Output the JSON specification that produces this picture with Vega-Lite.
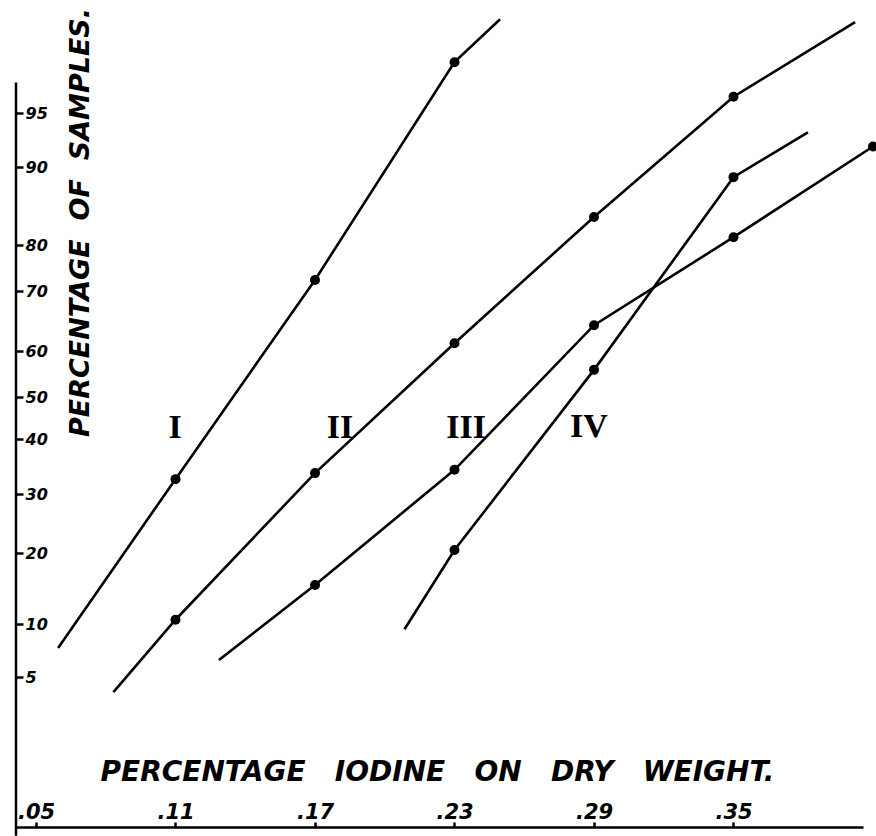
{
  "$schema": "https://vega.github.io/schema/vega-lite/v6.json",
  "width": 847,
  "height": 827,
  "autosize": {"type": "none"},
  "padding": {"left": 16, "top": 0, "right": 13, "bottom": 9},
  "background": "white",
  "config": {"view": {"stroke": null}},
  "datasets": {
    "curves": [
      {"curve": "I", "iodine": 0.0595, "pct": 7.74, "kind": "extension"},
      {"curve": "I", "iodine": 0.11, "pct": 32.7, "kind": "plotted"},
      {"curve": "I", "iodine": 0.17, "pct": 72.4, "kind": "plotted"},
      {"curve": "I", "iodine": 0.23, "pct": 97.5, "kind": "plotted"},
      {"curve": "I", "iodine": 0.2496, "pct": 98.8, "kind": "extension"},
      {"curve": "II", "iodine": 0.0833, "pct": 4.39, "kind": "extension"},
      {"curve": "II", "iodine": 0.11, "pct": 10.6, "kind": "plotted"},
      {"curve": "II", "iodine": 0.17, "pct": 33.8, "kind": "plotted"},
      {"curve": "II", "iodine": 0.23, "pct": 61.3, "kind": "plotted"},
      {"curve": "II", "iodine": 0.29, "pct": 83.6, "kind": "plotted"},
      {"curve": "II", "iodine": 0.35, "pct": 95.8, "kind": "plotted"},
      {"curve": "II", "iodine": 0.4023, "pct": 98.73, "kind": "extension"},
      {"curve": "III", "iodine": 0.1287, "pct": 6.6, "kind": "extension"},
      {"curve": "III", "iodine": 0.17, "pct": 15.5, "kind": "plotted"},
      {"curve": "III", "iodine": 0.23, "pct": 34.4, "kind": "plotted"},
      {"curve": "III", "iodine": 0.29, "pct": 64.3, "kind": "plotted"},
      {"curve": "III", "iodine": 0.35, "pct": 81.0, "kind": "plotted"},
      {"curve": "III", "iodine": 0.41, "pct": 91.9, "kind": "plotted"},
      {"curve": "IV", "iodine": 0.2085, "pct": 9.5, "kind": "extension"},
      {"curve": "IV", "iodine": 0.23, "pct": 20.5, "kind": "plotted"},
      {"curve": "IV", "iodine": 0.29, "pct": 55.9, "kind": "plotted"},
      {"curve": "IV", "iodine": 0.35, "pct": 88.7, "kind": "plotted"},
      {"curve": "IV", "iodine": 0.382, "pct": 93.2, "kind": "extension"}
    ],
    "labels": [
      {"label": "I", "iodine": 0.1098, "pct": 42.6},
      {"label": "II", "iodine": 0.1808, "pct": 42.6},
      {"label": "III", "iodine": 0.235, "pct": 42.6},
      {"label": "IV", "iodine": 0.2878, "pct": 42.9}
    ],
    "yaxisline": [
      {"iodine": 0.0414, "pct": 96.5, "pct_low": 0.18}
    ]
  },
  "data": {"name": "curves"},
  "encoding": {
    "x": {
      "field": "iodine",
      "type": "quantitative",
      "scale": {"domain": [0.0414, 0.4057], "nice": false, "zero": false},
      "axis": {
        "values": [0.05, 0.11, 0.17, 0.23, 0.29, 0.35],
        "labelExpr": "replace(format(datum.value, '.2f'), '0.', '.')",
        "grid": false,
        "domainColor": "black",
        "domainWidth": 2.5,
        "tickColor": "black",
        "tickWidth": 2.5,
        "tickSize": -5,
        "labelPadding": -4,
        "labelBaseline": "alphabetic",
        "labelFont": "DejaVu Sans",
        "labelFontSize": 21,
        "labelFontWeight": "bold",
        "labelFontStyle": "italic",
        "labelColor": "black",
        "labelFlush": false,
        "labelOverlap": false,
        "title": "PERCENTAGE\u00a0\u00a0\u00a0IODINE\u00a0\u00a0\u00a0ON\u00a0\u00a0\u00a0DRY\u00a0\u00a0\u00a0WEIGHT.",
        "titleFont": "DejaVu Sans",
        "titleFontSize": 28,
        "titleFontWeight": "bold",
        "titleFontStyle": "italic",
        "titleColor": "black",
        "titleX": 421,
        "titleY": -55,
        "titleAlign": "center",
        "titleBaseline": "middle",
        "titleAngle": 0
      }
    },
    "y": {
      "field": "pct",
      "type": "quantitative",
      "scale": {
        "domain": [0.3, 1, 5, 10, 20, 30, 40, 50, 60, 70, 80, 90, 95, 98, 99],
        "range": [827, 776, 677, 624, 553, 494, 439, 397, 351, 291, 245, 167, 113, 52, 11],
        "nice": false,
        "zero": false
      },
      "axis": {
        "orient": "left",
        "values": [5, 10, 20, 30, 40, 50, 60, 70, 80, 90, 95],
        "grid": false,
        "domain": false,
        "tickColor": "black",
        "tickWidth": 2.5,
        "tickSize": -7,
        "labelPadding": -2,
        "labelAlign": "left",
        "labelBaseline": "middle",
        "labelFont": "DejaVu Sans",
        "labelFontSize": 16,
        "labelFontWeight": "bold",
        "labelFontStyle": "italic",
        "labelColor": "black",
        "labelFlush": false,
        "labelOverlap": false,
        "title": "PERCENTAGE\u00a0\u00a0OF\u00a0\u00a0SAMPLES.",
        "titleFont": "DejaVu Sans",
        "titleFontSize": 27,
        "titleFontWeight": "bold",
        "titleFontStyle": "italic",
        "titleColor": "black",
        "titleX": 64,
        "titleY": 222,
        "titleAngle": 270,
        "titleAlign": "center",
        "titleBaseline": "middle"
      }
    }
  },
  "layer": [
    {
      "data": {"name": "yaxisline"},
      "mark": {"type": "rule", "color": "black", "strokeWidth": 2.5},
      "encoding": {
        "y2": {"field": "pct_low"}
      }
    },
    {
      "mark": {"type": "line", "color": "black", "strokeWidth": 2.6},
      "encoding": {"detail": {"field": "curve"}, "order": {"field": "iodine", "type": "quantitative"}}
    },
    {
      "transform": [{"filter": "datum.kind === 'plotted'"}],
      "mark": {"type": "point", "filled": true, "color": "black", "opacity": 1, "size": 100},
      "encoding": {}
    },
    {
      "data": {"name": "labels"},
      "mark": {"type": "text", "font": "Liberation Serif", "fontSize": 34, "fontWeight": "bold", "color": "black", "align": "center", "baseline": "middle"},
      "encoding": {"text": {"field": "label"}}
    }
  ]
}
